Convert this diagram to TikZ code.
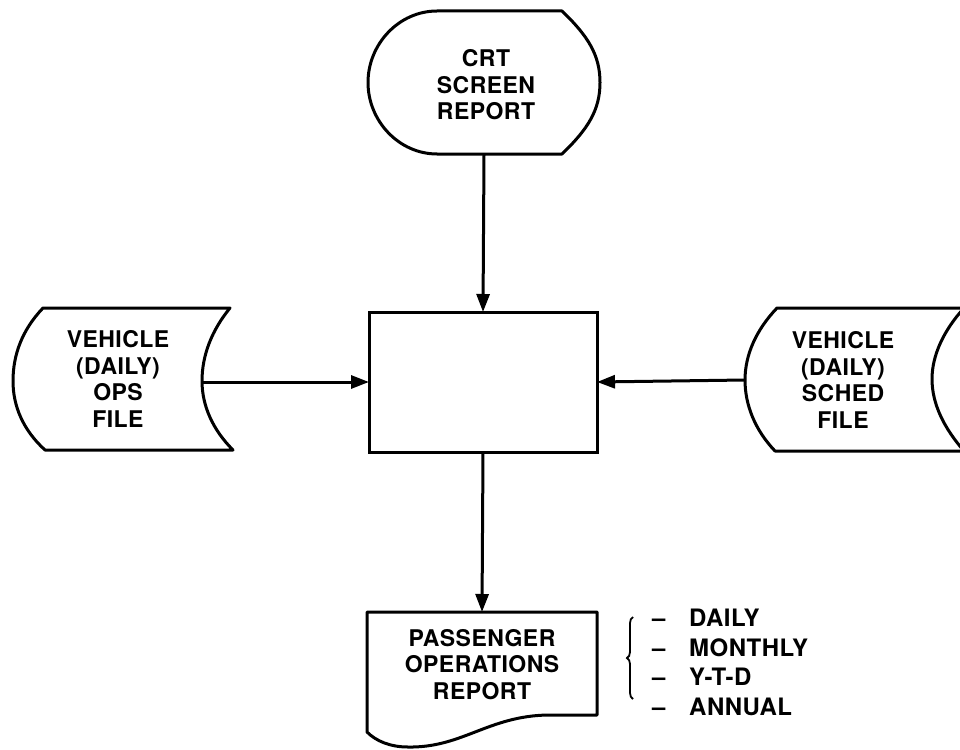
\documentclass[tikz,border=0pt]{standalone}
\usepackage{fontspec}
\setmainfont{TeX Gyre Heros}[LetterSpace=2]
\usetikzlibrary{arrows.meta,decorations.pathreplacing}
\begin{document}
\begin{tikzpicture}[x=1pt,y=-1pt,
  shp/.style={line width=3pt, line join=round},
  anchorbox/.style={draw=none, inner sep=0pt, outer sep=0pt},
  procbox/.style={draw, line width=3pt, inner sep=0pt, outer sep=0pt, minimum width=228pt, minimum height=140pt},
  lbl/.style={align=center, font=\fontsize{23}{26.5}\selectfont\bfseries, inner sep=0pt},
  flow/.style={line width=3pt, -{Triangle[length=18pt,width=13pt]}},
  item/.style={anchor=west, font=\fontsize{24}{24}\selectfont\bfseries, inner sep=0pt}]
\useasboundingbox[fill=white] (0,0) rectangle (960,749);

% CRT screen report (display)
\draw[shp] (437,11) -- (562,11) .. controls (588,36) and (600,55) .. (600,82.5)
  .. controls (600,110) and (588,129) .. (562,154) -- (437,154)
  .. controls (399,154) and (368,121) .. (368,82.5)
  .. controls (368,44) and (399,11) .. (437,11) -- cycle;
\node[anchorbox, minimum width=232pt, minimum height=143pt] (crt) at (484,82.5) {};
\node[lbl] (crtt) at (486,85) {CRT\\SCREEN\\REPORT};

% process box
\node[procbox] (proc) at (483,382) {};

% left file
\draw[shp] (43,308) -- (230,308) .. controls (212,330) and (202,355) .. (202,381)
  .. controls (202,406) and (213,430) .. (233,450) -- (45,450)
  .. controls (23,430) and (13,406) .. (13,381)
  .. controls (13,355) and (22,330) .. (43,308) -- cycle;
\node[anchorbox, minimum width=189pt, minimum height=142pt] (ops) at (107.5,382) {};
\node[lbl] (opst) at (118,379) {VEHICLE\\(DAILY)\\OPS\\FILE};

% right file
\draw[shp] (777,308) -- (964,308) .. controls (944,330) and (932,355) .. (932,379)
  .. controls (932,404) and (944,428) .. (964,451) -- (775,451)
  .. controls (755,430) and (745,405) .. (745,380)
  .. controls (745,355) and (756,330) .. (777,308) -- cycle;
\node[anchorbox, minimum width=187pt, minimum height=143pt] (sched) at (838.5,380) {};
\node[lbl] (schedt) at (843,380) {VEHICLE\\(DAILY)\\SCHED\\FILE};

% passenger operations report (document)
\draw[shp] (367,612) -- (597,612) -- (597,715) -- (548,715)
  .. controls (488,716) and (462,748) .. (408,747)
  .. controls (390,747) and (376,741) .. (367,732) -- cycle;
\node[anchorbox, minimum width=230pt, minimum height=122pt] (rep) at (482,673) {};
\node[lbl] (rept) at (482,664.5) {PASSENGER\\OPERATIONS\\REPORT};

% connectors
\draw[flow] (crt.south) -- (proc.north);
\draw[flow] (ops.east) -- (proc.west);
\draw[flow] (sched.west) -- (proc.east);
\draw[flow] (proc.south) -- (rep.north);

% report list
\draw[line width=1.8pt, decorate, decoration={brace, amplitude=6pt}]
  (633,699) -- (633,617);
\node[item] (i1) at (652,618) {\makebox[37pt][l]{--}DAILY};
\node[item] (i2) at (652,648) {\makebox[37pt][l]{--}MONTHLY};
\node[item] (i3) at (652,677) {\makebox[37pt][l]{--}Y-T-D};
\node[item] (i4) at (652,707) {\makebox[37pt][l]{--}ANNUAL};
\end{tikzpicture}
\end{document}
